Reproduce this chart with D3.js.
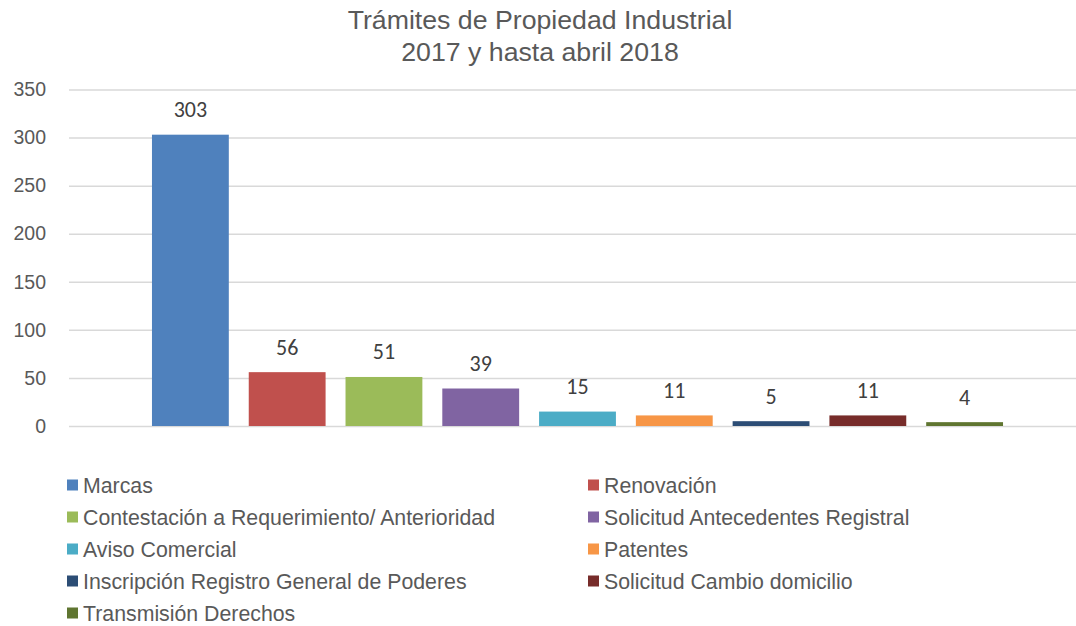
<!DOCTYPE html>
<html><head><meta charset="utf-8">
<script src="https://cdn.jsdelivr.net/npm/d3@7"></script>
<style>body{margin:0;background:#fff}svg{display:block}</style>
</head><body>
<svg id="c" width="1076" height="626"></svg>
<script>
const series = ["Marcas","Renovación","Contestación a Requerimiento/ Anterioridad","Solicitud Antecedentes Registral","Aviso Comercial","Patentes","Inscripción Registro General de Poderes","Solicitud Cambio domicilio","Transmisión Derechos"];
const values = [303,56,51,39,15,11,5,11,4];
const colors = ["#4F81BD","#C0504D","#9BBB59","#8064A2","#4BACC6","#F79646","#2C4D75","#772C2A","#5F7530"];
const yTicks = [0,50,100,150,200,250,300,350];
const titleLines = ["Trámites de Propiedad Industrial","2017 y hasta abril 2018"];

const svg = d3.select("#c");
const y = d3.scaleLinear().domain([0,350]).range([426,89.5]);
const x = d3.scaleBand().domain(series).range([142,1013]).paddingInner(0.206).paddingOuter(0.103);

// title
svg.append("text").attr("x",540).attr("text-anchor","middle")
  .style("font-family","Arial, 'Liberation Sans', sans-serif").style("font-size","26.7px").attr("fill","#595959")
  .selectAll("tspan").data(titleLines).join("tspan")
  .attr("x",540).attr("y",(d,i)=>29+i*31.5).text(d=>d);

// grid
const yAxis = d3.axisLeft(y).tickValues(yTicks).tickSize(-(1076-69)).tickPadding(23);
const g = svg.append("g").attr("transform","translate(69,0)").call(yAxis);
g.select(".domain").remove();
g.selectAll(".tick line").attr("stroke","#d9d9d9").attr("stroke-width",1.5);
g.selectAll(".tick text").attr("fill","#595959").style("font-family","Arial, 'Liberation Sans', sans-serif").style("font-size","19.5px");

// bars
svg.selectAll("rect.bar").data(values).join("rect").attr("class","bar")
  .attr("x",(d,i)=>x(series[i])).attr("width",x.bandwidth())
  .attr("y",d=>y(d)).attr("height",d=>y(0)-y(d)).attr("fill",(d,i)=>colors[i]);

// labels
svg.selectAll("text.lbl").data(values).join("text").attr("class","lbl")
  .attr("x",(d,i)=>x(series[i])+x.bandwidth()/2).attr("y",d=>y(d)-17.5)
  .attr("text-anchor","middle").attr("fill","#404040")
  .style("font-family","Carlito, Lato, 'Open Sans', sans-serif").style("font-size","22px")
  .text(d=>d);

// legend
const lg = svg.append("g");
const items = lg.selectAll("g").data(series).join("g")
  .attr("transform",(d,i)=>`translate(${i%2===0?67:588},${485+Math.floor(i/2)*32})`);
items.append("rect").attr("x",0).attr("y",-5.5).attr("width",11).attr("height",11).attr("fill",(d,i)=>colors[i]);
items.append("text").attr("x",16).attr("y",7.5).attr("fill","#595959")
  .style("font-family","Arial, 'Liberation Sans', sans-serif").style("font-size","21.3px").text(d=>d);
</script>
</body></html>
